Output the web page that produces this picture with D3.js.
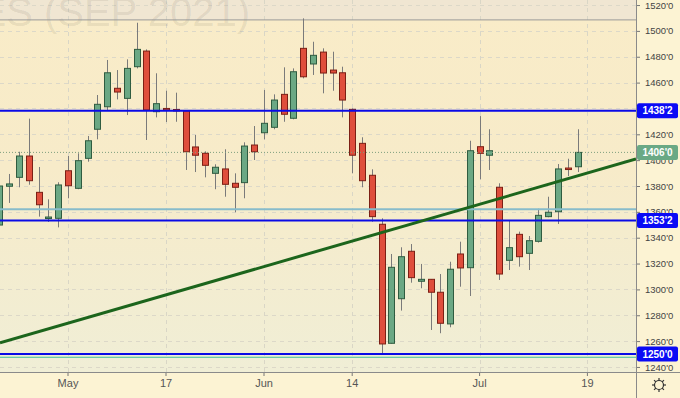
<!DOCTYPE html>
<html>
<head>
<meta charset="utf-8">
<script src="https://cdn.jsdelivr.net/npm/d3@7"></script>
<style>
  body { margin: 0; background: #fcf3d3; }
  svg { display: block; font-family: "Liberation Sans", Arial, sans-serif; }
</style>
</head>
<body>
<svg id="chart" width="680" height="398"></svg>
<script>
// trading days shown (Apr 22 .. Jul 16, 2021)
const dates = [
  "2021-04-22","2021-04-23","2021-04-26","2021-04-27","2021-04-28","2021-04-29","2021-04-30",
  "2021-05-03","2021-05-04","2021-05-05","2021-05-06","2021-05-07",
  "2021-05-10","2021-05-11","2021-05-12","2021-05-13","2021-05-14",
  "2021-05-17","2021-05-18","2021-05-19","2021-05-20","2021-05-21",
  "2021-05-24","2021-05-25","2021-05-26","2021-05-27","2021-05-28",
  "2021-06-01","2021-06-02","2021-06-03","2021-06-04",
  "2021-06-07","2021-06-08","2021-06-09","2021-06-10","2021-06-11",
  "2021-06-14","2021-06-15","2021-06-16","2021-06-17","2021-06-18",
  "2021-06-21","2021-06-22","2021-06-23","2021-06-24","2021-06-25",
  "2021-06-28","2021-06-29","2021-06-30","2021-07-01","2021-07-02",
  "2021-07-06","2021-07-07","2021-07-08","2021-07-09",
  "2021-07-12","2021-07-13","2021-07-14","2021-07-15","2021-07-16"
];
// empty days on the right side of the chart
const futureDates = ["2021-07-19","2021-07-20","2021-07-21","2021-07-22","2021-07-23"];

const opens = [
  1349.8,1379.8,1386.7,1403.2,1375.1,1355.5,1355.0,
  1391.8,1378.2,1401.4,1423.9,1441.3,
  1455.6,1447.8,1472.3,1484.4,1437.5,
  1440.0,1439.2,1438.0,1410.2,1405.3,
  1389.8,1393.2,1382.1,1382.6,1411.7,
  1421.2,1425.4,1450.9,1432.4,
  1486.5,1474.4,1483.6,1469.7,1467.6,
  1439.3,1413.0,1388.3,1350.4,1258.3,
  1292.8,1329.5,1306.3,1307.8,1297.8,
  1273.3,1327.4,1316.8,1410.4,1403.8,
  1379.0,1322.5,1342.6,1327.9,
  1337.2,1356.3,1360.1,1393.9,1394.9
];
const highs = [
  1384.0,1389.3,1406.5,1432.1,1394.7,1369.7,1382.9,
  1403.2,1405.3,1418.7,1450.4,1477.5,
  1469.7,1478.0,1506.3,1485.7,1467.2,
  1453.7,1452.2,1438.5,1419.5,1406.8,
  1396.8,1408.4,1389.8,1413.8,1426.4,
  1454.3,1450.9,1471.8,1471.0,
  1509.7,1491.6,1486.5,1483.9,1472.3,
  1440.0,1417.7,1392.9,1355.0,1327.4,
  1332.6,1335.1,1319.7,1308.0,1311.9,
  1321.4,1336.9,1415.0,1434.1,1423.9,
  1382.1,1353.7,1344.7,1341.3,
  1362.4,1371.7,1397.0,1401.1,1423.9
];
const lows = [
  1346.0,1366.9,1379.0,1381.0,1356.3,1352.2,1348.0,
  1370.5,1377.5,1398.8,1416.1,1438.8,
  1447.0,1434.9,1471.0,1415.6,1433.1,
  1429.5,1429.7,1392.4,1390.8,1386.7,
  1377.5,1371.7,1359.7,1370.5,1400.1,
  1416.1,1423.9,1429.7,1431.6,
  1463.3,1465.9,1451.7,1453.7,1433.1,
  1389.8,1379.0,1352.4,1250.6,1258.0,
  1283.6,1305.2,1300.9,1268.6,1266.1,
  1270.7,1302.1,1294.9,1385.2,1392.4,
  1307.3,1315.0,1317.6,1315.0,
  1336.2,1355.8,1350.6,1387.7,1390.8
];
const closes = [
  1380.0,1381.6,1403.2,1384.1,1365.5,1356.0,1380.8,
  1380.2,1399.6,1415.0,1443.2,1467.6,
  1452.7,1471.0,1485.7,1438.8,1443.7,
  1439.0,1438.5,1406.5,1403.8,1396.0,
  1394.5,1381.3,1379.0,1410.9,1406.5,
  1428.5,1446.5,1435.5,1468.4,
  1464.5,1481.1,1467.4,1467.4,1446.5,
  1403.8,1384.1,1356.3,1257.8,1317.1,
  1325.3,1309.1,1307.8,1297.8,1273.8,
  1315.6,1316.6,1407.3,1405.3,1407.3,
  1311.9,1332.3,1325.3,1337.7,
  1357.3,1359.7,1393.2,1392.9,1406.0
];

const tickDates = ["2021-05-03","2021-05-17","2021-06-01","2021-06-14","2021-07-01","2021-07-19"];
const tickLabels = ["May","17","Jun","14","Jul","19"];
const yTicks = [1240,1260,1280,1300,1320,1340,1360,1380,1400,1420,1440,1460,1480,1500,1520];
// tick labels fully hidden behind a price tag
const hiddenTicks = [1440];

// horizontal levels
const levelPrices = [1438.25, 1353.25, 1250];
const levelLabels = ["1438'2", "1353'2", "1250'0"];
const lastPrice = 1406;
const lastLabel = "1406'0";
const topLine = 1508.5;
const supportLine = 1362;
const lowLine = 1247.5;

// trend line anchors
const trendDates = ["2021-04-22", "2021-07-16"];
const trendPrices = [1258.5, 1387.8];

const watermark = "SOYBEAN FUTURES (SEP 2021)";

// ---- layout ----
const plotW = 636, plotH = 372, W = 680, H = 398;
const step = 9.8;
const svg = d3.select("#chart");

const allDays = dates.concat(futureDates);
const x = d3.scaleBand()
  .domain(allDays)
  .range([-5.5, -5.5 + allDays.length * step])
  .padding(0);
const cx = d => x(d) + x.bandwidth() / 2;

const y = d3.scaleLinear().domain([1236.1, 1523.9]).range([plotH, 0]);

// background
const grad = svg.append("defs").append("linearGradient")
  .attr("id", "bg").attr("x1", 0).attr("y1", 0).attr("x2", 0).attr("y2", 1);
grad.append("stop").attr("offset", "0%").attr("stop-color", "#f9ecc8");
grad.append("stop").attr("offset", "45%").attr("stop-color", "#f7ebc9");
grad.append("stop").attr("offset", "100%").attr("stop-color", "#f0eed6");

svg.append("rect").attr("width", W).attr("height", H).attr("fill", "#fcf3d3");
svg.append("rect").attr("width", plotW).attr("height", plotH).attr("fill", "url(#bg)");
svg.append("rect").attr("width", plotW).attr("height", y(topLine)).attr("fill", "#f0e6d2");

svg.append("clipPath").attr("id", "plot-clip")
  .append("rect").attr("width", plotW).attr("height", plotH);

const plot = svg.append("g").attr("clip-path", "url(#plot-clip)");

// grid
plot.append("g").selectAll("line")
  .data(yTicks)
  .join("line")
  .attr("x1", 0).attr("x2", plotW)
  .attr("y1", d => Math.round(y(d)) + 0.5).attr("y2", d => Math.round(y(d)) + 0.5)
  .attr("stroke", "#dcd8c8")
  .attr("stroke-dasharray", "4,4");

plot.append("g").selectAll("line")
  .data(tickDates)
  .join("line")
  .attr("x1", d => Math.round(cx(d)) + 0.5).attr("x2", d => Math.round(cx(d)) + 0.5)
  .attr("y1", 0).attr("y2", plotH)
  .attr("stroke", "#d9d6c6")
  .attr("stroke-dasharray", "4,4");

// watermark
plot.append("text")
  .attr("x", 250).attr("y", 26)
  .attr("text-anchor", "end")
  .attr("fill", "#000").attr("fill-opacity", 0.08)
  .style("font-size", "40px")
  .text(watermark);

// top line
plot.append("line")
  .attr("x1", 0).attr("x2", plotW)
  .attr("y1", y(topLine)).attr("y2", y(topLine))
  .attr("stroke", "#9a9a9a").attr("stroke-width", 1);

// candles
const candles = dates.map((d, i) => ({
  date: d, open: opens[i], high: highs[i], low: lows[i], close: closes[i]
}));

plot.append("g").selectAll("line")
  .data(candles)
  .join("line")
  .attr("x1", d => Math.round(cx(d.date)) + 0.5)
  .attr("x2", d => Math.round(cx(d.date)) + 0.5)
  .attr("y1", d => y(d.high))
  .attr("y2", d => y(d.low))
  .attr("stroke", "#7a7a7a");

plot.append("g").selectAll("rect")
  .data(candles)
  .join("rect")
  .attr("x", d => Math.round(cx(d.date)) - 2.5)
  .attr("width", 6)
  .attr("y", d => y(Math.max(d.open, d.close)))
  .attr("height", d => Math.max(1.5, Math.abs(y(d.open) - y(d.close))))
  .attr("fill", d => d.close >= d.open ? "#6ba884" : "#df4e3c")
  .attr("stroke", d => d.close >= d.open ? "#2f5c40" : "#7c1f14")
  .attr("stroke-width", 1);

// support / resistance lines
plot.append("line")
  .attr("x1", 0).attr("x2", plotW)
  .attr("y1", y(supportLine)).attr("y2", y(supportLine))
  .attr("stroke", "#87bccb").attr("stroke-width", 2);

plot.append("line")
  .attr("x1", 0).attr("x2", plotW)
  .attr("y1", y(lowLine)).attr("y2", y(lowLine))
  .attr("stroke", "#3dbf9c").attr("stroke-width", 1);

plot.append("line")
  .attr("x1", 0).attr("x2", plotW)
  .attr("y1", y(lastPrice)).attr("y2", y(lastPrice))
  .attr("stroke", "#7f9f7f").attr("stroke-dasharray", "1,2");

plot.append("g").selectAll("line")
  .data(levelPrices)
  .join("line")
  .attr("x1", 0).attr("x2", plotW)
  .attr("y1", d => y(d)).attr("y2", d => y(d))
  .attr("stroke", "#0a0ae6").attr("stroke-width", 2);

// trend line, extended across the plot
const tx1 = cx(trendDates[0]), ty1 = y(trendPrices[0]);
const tx2 = cx(trendDates[1]), ty2 = y(trendPrices[1]);
const slope = (ty2 - ty1) / (tx2 - tx1);
plot.append("line")
  .attr("x1", 0).attr("y1", ty1 + slope * (0 - tx1))
  .attr("x2", plotW).attr("y2", ty1 + slope * (plotW - tx1))
  .attr("stroke", "#1c651c").attr("stroke-width", 3);

// right axis
const yAxis = svg.append("g")
  .attr("transform", `translate(${plotW},0)`)
  .call(d3.axisRight(y).tickValues(yTicks)
    .tickFormat(d => hiddenTicks.includes(d) ? "" : d + "'0")
    .tickSize(4).tickPadding(5));
yAxis.select(".domain").remove();
yAxis.selectAll("line").attr("stroke", "#777");
yAxis.selectAll("text").attr("fill", "#444").style("font-size", "9.5px");

// bottom axis
const xAxis = svg.append("g")
  .attr("transform", `translate(0,${plotH})`)
  .call(d3.axisBottom(x).tickValues(tickDates)
    .tickFormat(d => tickLabels[tickDates.indexOf(d)]).tickSize(4).tickPadding(3));
xAxis.select(".domain").remove();
xAxis.selectAll("line").attr("stroke", "#777");
xAxis.selectAll("text").attr("fill", "#555").style("font-size", "11px");

svg.append("line")
  .attr("x1", 0).attr("x2", W).attr("y1", plotH + 0.5).attr("y2", plotH + 0.5)
  .attr("stroke", "#8a8a8a");
svg.append("line")
  .attr("x1", plotW + 0.5).attr("x2", plotW + 0.5).attr("y1", 0).attr("y2", H)
  .attr("stroke", "#8a8a8a");

// price tags
function priceTag(price, label, color) {
  const g = svg.append("g").attr("transform", `translate(${plotW + 1},${y(price)})`);
  g.append("rect")
    .attr("x", 0).attr("y", -7.5)
    .attr("width", 41).attr("height", 15)
    .attr("rx", 2)
    .attr("fill", color);
  g.append("text")
    .attr("x", 20.5).attr("y", 0).attr("dy", "0.35em")
    .attr("text-anchor", "middle")
    .attr("fill", "#fff")
    .style("font-size", "10px")
    .style("font-weight", "bold")
    .text(label);
}
levelPrices.forEach((p, i) => priceTag(p, levelLabels[i], "#0a0af5"));
priceTag(lastPrice, lastLabel, "#6aa985");

// settings icon
const gear = svg.append("g").attr("transform", "translate(659,385)");
gear.append("circle").attr("r", 4.5).attr("fill", "none").attr("stroke", "#333").attr("stroke-width", 1.2);
gear.selectAll("line")
  .data(d3.range(8))
  .join("line")
  .attr("x1", d => Math.cos(d * Math.PI / 4) * 4.5)
  .attr("y1", d => Math.sin(d * Math.PI / 4) * 4.5)
  .attr("x2", d => Math.cos(d * Math.PI / 4) * 7)
  .attr("y2", d => Math.sin(d * Math.PI / 4) * 7)
  .attr("stroke", "#333").attr("stroke-width", 1.2);
</script>
</body>
</html>
